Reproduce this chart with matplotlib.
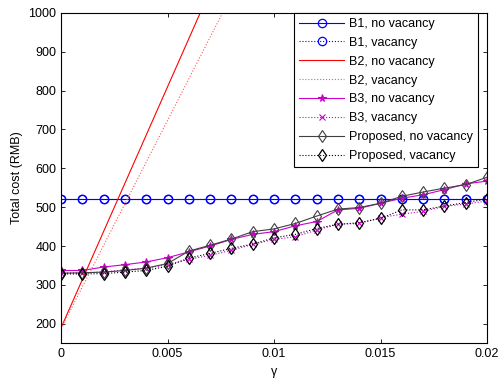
import numpy as np
import matplotlib
matplotlib.use('Agg')
import matplotlib.pyplot as plt

plt.rcParams['font.family'] = ['Liberation Sans', 'DejaVu Sans']
plt.rcParams['font.size'] = 9

gamma = [0, 0.001, 0.002, 0.003, 0.004, 0.005, 0.006, 0.007, 0.008, 0.009, 0.010,
         0.011, 0.012, 0.013, 0.014, 0.015, 0.016, 0.017, 0.018, 0.019, 0.020]

b1_no_vac = [522] * 21
b1_vac = [522] * 21

# B2 is a straight line, only end points needed
gamma_b2 = [0, 0.02]
b2_no_vac = [190, 2670]
b2_vac = [188, 2330]

b3_no_vac = [337, 337, 346, 352, 359, 370, 385, 400, 417, 430, 437,
             452, 463, 493, 497, 510, 523, 532, 545, 560, 567]
b3_vac = [331, 331, 333, 339, 343, 352, 366, 376, 389, 404, 417,
          424, 441, 456, 458, 473, 482, 489, 502, 508, 516]
prop_no_vac = [330, 331, 333, 337, 343, 355, 387, 402, 418, 437, 444,
               458, 477, 495, 499, 510, 528, 539, 549, 558, 577]
prop_vac = [328, 328, 329, 333, 337, 348, 369, 381, 394, 405, 421,
            430, 445, 456, 460, 471, 493, 493, 503, 512, 521]

fig = plt.figure(figsize=(5.01, 3.80), dpi=100)
ax = fig.add_axes([0.122, 0.097, 0.850, 0.869])

ms = 6
ax.plot(gamma, b1_no_vac, '-o', color='blue', lw=0.8, ms=ms, mfc='none', mew=0.9,
        label='B1, no vacancy')
ax.plot(gamma, b1_vac, ':o', color='blue', lw=0.8, ms=ms, mfc='none', mew=0.9,
        label='B1, vacancy')
ax.plot(gamma_b2, b2_no_vac, '-', color='red', lw=0.8, label='B2, no vacancy')
ax.plot(gamma_b2, b2_vac, ':', color='#ff5555', lw=0.8, label='B2, vacancy')
ax.plot(gamma, b3_no_vac, '-*', color='#cc00cc', lw=0.8, ms=5.5, mew=0.8,
        label='B3, no vacancy')
ax.plot(gamma, b3_vac, ':x', color='#cc00cc', lw=0.8, ms=5, mew=0.8,
        label='B3, vacancy')
ax.plot(gamma, prop_no_vac, '-d', color='0.25', lw=0.8, ms=ms, mfc='none', mew=0.8,
        label='Proposed, no vacancy')
ax.plot(gamma, prop_vac, ':d', color='black', lw=0.8, ms=ms, mfc='none', mew=0.9,
        label='Proposed, vacancy')

ax.set_xlim(0, 0.02)
ax.set_ylim(150, 1000)
ax.set_xticks([0, 0.005, 0.01, 0.015, 0.02])
ax.set_xticklabels(['0', '0.005', '0.01', '0.015', '0.02'])
ax.set_yticks(np.arange(200, 1001, 100))
ax.tick_params(direction='in', top=True, right=True, length=3, width=0.6)
for s in ax.spines.values():
    s.set_linewidth(0.8)

ax.set_xlabel('\u03b3')
ax.set_ylabel('Total cost (RMB)')

leg = ax.legend(loc='upper right', bbox_to_anchor=(1 - 9 / 426, 1.0),
                fancybox=False, edgecolor='black', borderaxespad=0,
                handlelength=3.6, handletextpad=0.4, labelspacing=0.55,
                borderpad=0.4, framealpha=1, fontsize=9)
leg.get_frame().set_linewidth(0.8)

fig.savefig('out.png', dpi=100)
